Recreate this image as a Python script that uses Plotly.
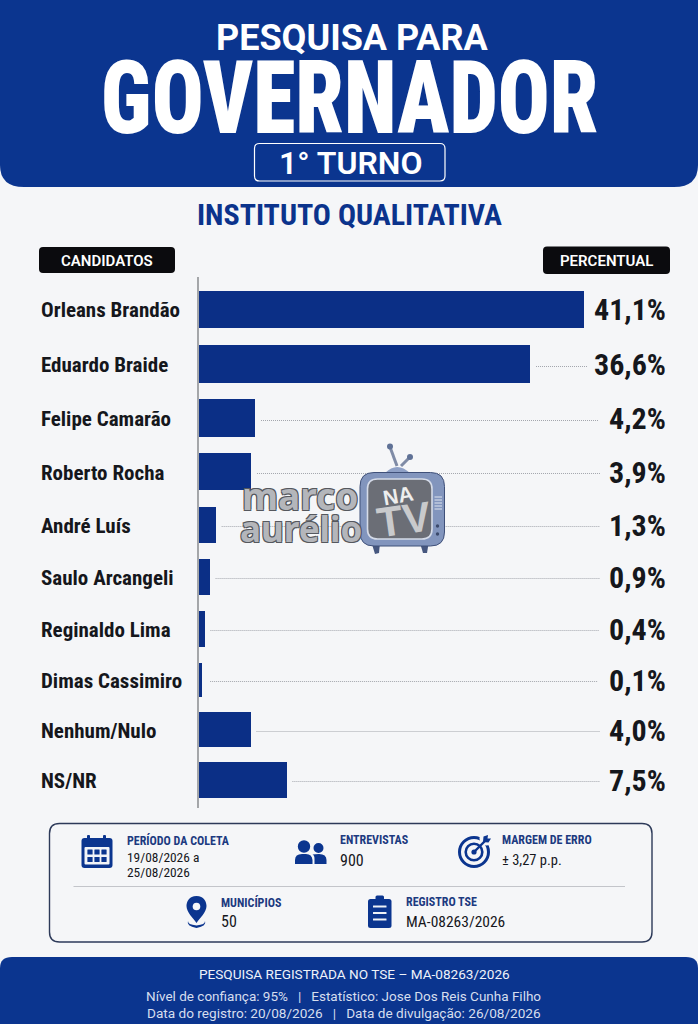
import plotly.graph_objects as go

# ---------- data ----------
candidates = ["Orleans Brandão", "Eduardo Braide", "Felipe Camarão", "Roberto Rocha", "André Luís",
              "Saulo Arcangeli", "Reginaldo Lima", "Dimas Cassimiro", "Nenhum/Nulo", "NS/NR"]
percent_labels = ["41,1%", "36,6%", "4,2%", "3,9%", "1,3%", "0,9%", "0,4%", "0,1%", "4,0%", "7,5%"]
# Bar lengths as actually drawn in the picture (the reference's bars are not proportional
# to their printed labels), expressed on the scale where the top bar equals 41.1.
drawn_lengths = [41.1, 35.35, 6.05, 5.62, 1.85, 1.2, 0.65, 0.32, 5.62, 9.45]

# ---------- layout constants (pixels) ----------
W, H = 698, 1024
X0, PX_PER_UNIT = 198.7, 9.37
row_y = [309.5, 364, 418.2, 471.5, 525, 577.2, 628.8, 680, 729.5, 780]
bar_h = [37.6, 38.6, 37.7, 37, 36.8, 35.7, 36.3, 34.3, 35, 36]
name_y = [309.5, 364.5, 419, 473, 526, 578, 630, 681, 731, 780.5]
value_y = [309, 364, 418, 472, 525.5, 577, 629, 680, 730, 780]
leader_y = [309.5, 366.5, 420.5, 473.5, 526.5, 578.5, 630.5, 681.5, 731.5, 781.5]
leader_gap = [None, 0.65, 0.6, 0.6, 0.6, 0.6, 0.6, 0.9, 0.55, 0.55]
leader_end = [None, 588, 598, 600, 600, 600, 599, 598, 600, 600]

BLUE, BAR, INK = "#0b358f", "#0b2f86", "#15171c"
NARROW = "Roboto Condensed"
BG = "#f5f6f8"
NOFILL = "rgba(0,0,0,0)"

fig = go.Figure()

# leader lines
for i, g in enumerate(leader_gap):
    if g is None:
        continue
    fig.add_trace(go.Scatter(
        x=[drawn_lengths[i] + g, (leader_end[i] - X0) / PX_PER_UNIT], y=[leader_y[i]] * 2,
        mode="lines", line=dict(color="#a3a6ad", width=1, dash="1px,1px"),
        hoverinfo="skip", showlegend=False))

# bars
fig.add_trace(go.Bar(x=drawn_lengths, y=row_y, width=bar_h, orientation="h",
                     marker=dict(color=BAR, line=dict(width=0)), showlegend=False,
                     hovertext=candidates, hoverinfo="text"))

# pixel-space helper axes for decoration
fig.add_trace(go.Scatter(x=[0, W], y=[0, H], xaxis="x2", yaxis="y2", mode="markers",
                         marker=dict(opacity=0), hoverinfo="skip", showlegend=False))

shapes, annos = [], []


def P(d, fill=BLUE, line=None, lw=0, layer="above"):
    shapes.append(dict(type="path", path=d, xref="x2", yref="y2", fillcolor=fill, layer=layer,
                       line=dict(color=line or NOFILL, width=lw)))


def rr(x0, y0, x1, y1, r, **k):
    P(f"M{x0+r} {y0} H{x1-r} Q{x1} {y0} {x1} {y0+r} V{y1-r} Q{x1} {y1} {x1-r} {y1} "
      f"H{x0+r} Q{x0} {y1} {x0} {y1-r} V{y0+r} Q{x0} {y0} {x0+r} {y0} Z", **k)


def circ(cx, cy, r, fill=BLUE, line=None, lw=0):
    shapes.append(dict(type="circle", xref="x2", yref="y2", x0=cx - r, x1=cx + r, y0=cy - r, y1=cy + r,
                       fillcolor=fill, layer="above", line=dict(color=line or NOFILL, width=lw)))


def T(x, y, s, size, color=INK, family=NARROW, weight=400, anchor="left", angle=0, shadow=None):
    f = dict(size=size, color=color, family=family, weight=weight)
    if shadow:
        f["shadow"] = shadow
    annos.append(dict(x=x, y=y, xref="x2", yref="y2", text=s, showarrow=False, xanchor=anchor,
                      yanchor="middle", font=f, textangle=angle, borderpad=0, borderwidth=0))


# header and footer bands
P(f"M0 0 H{W} V165 Q{W} 187 {W-24} 187 H24 Q0 187 0 165 Z", fill=BLUE, layer="below")
P(f"M0 968 Q0 957 12 957 H{W-12} Q{W} 957 {W} 968 V{H} H0 Z", fill=BLUE, layer="below")
T(352.5, 37.5, "PESQUISA PARA", 36, "white", "Roboto", 700, "center")
T(349.5, 98, "GOVERNADOR", 102, "white", NARROW, 900, "center")
rr(254.5, 143.5, 445, 181, 5, fill=NOFILL, line="white", lw=1.2)
T(350.5, 163, "1° TURNO", 32, "white", "Roboto", 600, "center")
T(349.5, 214, "INSTITUTO QUALITATIVA", 30, "#0b338c", NARROW, 700, "center")

# column pills
rr(39, 247, 175, 273, 4, fill="#0b0b0e")
rr(543, 246.5, 670, 274, 4, fill="#0b0b0e")
T(107, 260.5, "CANDIDATOS", 15, "white", "Roboto", 600, "center")
T(606.5, 261, "PERCENTUAL", 15, "white", "Roboto", 600, "center")

# axis line
P(f"M{X0-0.7} 277 V808", fill=NOFILL, line="#6f7276", lw=1.2)

# row labels
for ny, vy, name, lab in zip(name_y, value_y, candidates, percent_labels):
    T(41, ny, name, 21, INK, NARROW, 700)
    T(666, vy, lab, 30, INK, NARROW, 700, "right")

# info box
rr(49.5, 823.5, 652, 942, 10, fill=NOFILL, line="#2d3a59", lw=1.4)
P("M73.5 886.5 H625", fill=NOFILL, line="#c3c5ca", lw=1)
LBL = "#1c3a80"
T(126.5, 840, "PERÍODO DA COLETA", 12, LBL, NARROW, 700)
T(126.5, 857, "19/08/2026 a", 13.4, INK, NARROW, 400)
T(126.5, 872, "25/08/2026", 13.4, INK, NARROW, 400)
T(339.5, 840, "ENTREVISTAS", 12, LBL, NARROW, 700)
T(339.5, 860, "900", 16, INK, NARROW, 400)
T(502, 840, "MARGEM DE ERRO", 12, LBL, NARROW, 700)
T(502, 860.5, "± 3,27 p.p.", 14.5, INK, NARROW, 400)
T(221, 902, "MUNICÍPIOS", 12, LBL, NARROW, 700)
T(221, 921.5, "50", 16, INK, NARROW, 400)
T(405.5, 902, "REGISTRO TSE", 12, LBL, NARROW, 700)
T(405.5, 921.5, "MA-08263/2026", 15.5, INK, NARROW, 400)

# calendar icon
rr(81.5, 838, 112.5, 868, 3)
rr(87, 835, 90, 842, 1)
rr(103, 835, 106, 842, 1)
rr(84.5, 847, 109.5, 864.5, 1, fill="#f2f4f8")
for cx in (90, 97, 104):
    for cy in (852, 859.5):
        rr(cx - 2.6, cy - 2.4, cx + 2.6, cy + 2.4, 0.5)

# people icon
circ(304, 846.5, 6.2)
circ(318.5, 848, 5)
P("M295 864 V860 Q295 854 302 854 H306 Q312 854 312.5 860 V864 Z")
P("M314.5 864 V859 Q314.5 855 312.5 854.5 Q315 854 319 854 Q326.5 854 326.5 860 V864 Z")

# target icon
circ(474, 852, 14.5, fill=NOFILL, line=BLUE, lw=3)
circ(474, 852, 8.3, fill=NOFILL, line=BLUE, lw=2.6)
circ(474, 852, 2.6)
circ(486.5, 838.5, 7, fill=BG)
P("M474 852 L485 841", fill=NOFILL, line=BLUE, lw=2.4)
P("M483 842 L483.5 836.5 L488 835 L487.5 838.5 L491 838.5 L488.5 842.5 Z")

# pin icon
P("M196.5 896 C189 896 186.5 902 186.5 906 C186.5 912 193 918 196.5 923 "
  "C200 918 206.5 912 206.5 906 C206.5 902 204 896 196.5 896 Z")
circ(196.5, 906.5, 3.8, fill=BG)
P("M188 921 Q186 926 196.5 928 Q207 926 205 921 Q205.5 924.5 196.5 925.5 Q187.5 924.5 188 921 Z")

# clipboard icon
rr(368, 899, 391.5, 928, 2.5)
rr(375.5, 895.5, 384, 902, 1.5)
for y in (906.5, 913, 919.5):
    rr(373, y - 1, 386.5, y + 1, 0.3, fill="#eef1f7")

# footer text
FT = "#d6deee"
T(354, 973.5, "PESQUISA REGISTRADA NO TSE – MA-08263/2026", 13.6, "#eef2fa", "Roboto", 400, "center")
T(343, 995.5, "Nível de confiança: 95%   |   Estatístico: Jose Dos Reis Cunha Filho", 13.5, FT, "Roboto", 400, "center")
T(343.5, 1013, "Data do registro: 20/08/2026   |   Data de divulgação: 26/08/2026", 13.6, FT, "Roboto", 400, "center")

# watermark: TV
P("M397 466 L390 447", fill=NOFILL, line="#7f8ba6", lw=3)
P("M401 466 L410 457", fill=NOFILL, line="#7f8ba6", lw=3)
circ(390, 446.5, 3, fill="#5f7196")
circ(410, 457, 3, fill="#5f7196")
P("M385 473 Q397 461 410 473 Z", fill="#8ea0c6")
P("M371 541 L375 554 L379 553 L380 543 Z", fill="#46577f")
P("M420 543 L423 553 L427 553 L429 541 Z", fill="#46577f")
rr(360, 472.5, 444.5, 546, 14, fill="#8295bd", line="#3f5079", lw=1)
rr(367.5, 479, 432, 539, 10, fill="#6b6e76", line="#d5dbe8", lw=1.6)
circ(437.5, 526, 1.7, fill="#3c4a6c")
circ(437.5, 534, 1.7, fill="#3c4a6c")
for yy in (497, 500, 503, 506, 509):
    P(f"M434.5 {yy} H442", fill=NOFILL, line="#dfe5f0", lw=1)
T(398, 495, "NA", 21, "#eeeeee", "Liberation Sans", 700, "center", -10)
T(404, 519, "TV", 42, "#c9cacc", "Liberation Sans", 700, "center", -8)
WM = "-1px -1px 0 #55585e, 1px -1px 0 #55585e, -1px 1px 0 #55585e, 1px 1px 0 #55585e"
T(299.5, 495, "marco", 37, "#b4b6bb", "Noto Sans", 700, "center", 0, WM)
T(300.5, 528, "aurélio", 35, "#b4b6bb", "Noto Sans", 700, "center", 0, WM)

fig.update_layout(
    width=W, height=H, margin=dict(l=0, r=0, t=0, b=0), autosize=False,
    paper_bgcolor=BG, plot_bgcolor=NOFILL, showlegend=False,
    bargap=0, shapes=shapes, annotations=annos,
    xaxis=dict(domain=[0, 1], range=[-X0 / PX_PER_UNIT, (W - X0) / PX_PER_UNIT], visible=False, fixedrange=True),
    yaxis=dict(domain=[0, 1], range=[H, 0], visible=False, fixedrange=True),
    xaxis2=dict(domain=[0, 1], range=[0, W], visible=False, anchor="y2", fixedrange=True),
    yaxis2=dict(domain=[0, 1], range=[H, 0], visible=False, anchor="x2", fixedrange=True),
)
POST = """
document.body.style.margin='0';document.body.style.background='#f5f6f8';
document.querySelectorAll('.annotation-text').forEach(function(t){
  if(t.textContent==='GOVERNADOR'){t.style.transformBox='fill-box';t.style.transformOrigin='center';t.style.transform='scaleX(0.845)';}
});
"""
fig.write_html("out.html", config=dict(displayModeBar=False), post_script=POST)
